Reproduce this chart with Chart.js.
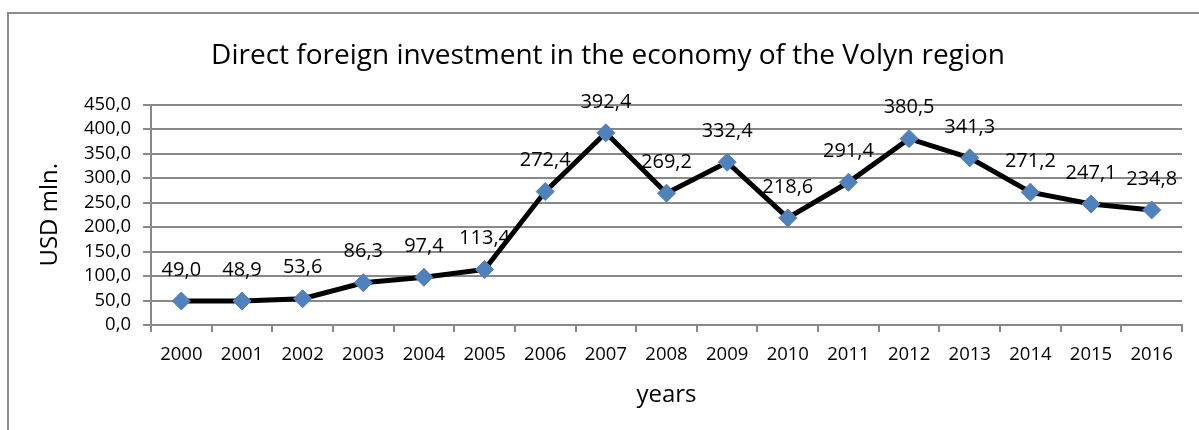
<!DOCTYPE html>
<html>
<head>
<meta charset="utf-8">
<script src="https://cdn.jsdelivr.net/npm/chart.js@4.4.1/dist/chart.umd.min.js"></script>
<style>
  html, body { margin: 0; padding: 0; background: #fff; }
  #wrap { position: relative; width: 1199px; height: 430px; overflow: hidden; }
  #frame {
    position: absolute; left: 7px; top: 12px; right: -10px; bottom: -10px;
    border-left: 2px solid #8c8c8c; border-top: 2px solid #8c8c8c;
  }
  #chart { position: absolute; left: 0; top: 0; }
</style>
</head>
<body>
<div id="wrap">
  <div id="frame"></div>
  <canvas id="chart" width="1199" height="430"></canvas>
</div>
<script>
const years = ["2000", "2001", "2002", "2003", "2004", "2005", "2006", "2007", "2008",
  "2009", "2010", "2011", "2012", "2013", "2014", "2015", "2016"];
const investment = [49.0, 48.9, 53.6, 86.3, 97.4, 113.4, 272.4, 392.4, 269.2,
  332.4, 218.6, 291.4, 380.5, 341.3, 271.2, 247.1, 234.8];
const yTicks = [0, 50, 100, 150, 200, 250, 300, 350, 400, 450];

const FONT = "'Open Sans', 'Noto Sans', sans-serif";
const GRID = "#898989";
const fmt = (v) => Number(v).toFixed(1).replace(".", ",");

// подписи значений над точками
const valueLabels = {
  id: "valueLabels",
  afterDatasetsDraw(chart) {
    const ctx = chart.ctx;
    const meta = chart.getDatasetMeta(0);
    ctx.save();
    ctx.font = "20px " + FONT;
    ctx.fillStyle = "#000";
    ctx.textAlign = "center";
    ctx.textBaseline = "middle";
    meta.data.forEach((pt, i) => {
      ctx.fillText(fmt(investment[i]), pt.x, pt.y - 31);
    });
    ctx.restore();
  },
};

new Chart(document.getElementById("chart").getContext("2d"), {
  type: "line",
  data: {
    labels: years,
    datasets: [{
      data: investment,
      borderColor: "#000",
      borderWidth: 5,
      tension: 0,
      pointStyle: "rectRot",
      pointRadius: 9,
      pointHoverRadius: 9,
      pointBackgroundColor: "#4f81bd",
      pointBorderColor: "#4f81bd",
      pointBorderWidth: 1,
    }],
  },
  options: {
    responsive: false,
    animation: false,
    layout: { padding: { left: 34, right: 17, top: 14, bottom: 0 } },
    plugins: {
      legend: { display: false },
      tooltip: { enabled: false },
      title: {
        display: true,
        text: "Direct foreign investment in the economy of the Volyn region",
        color: "#000",
        font: { family: FONT, size: 28, weight: "normal" },
        padding: { top: 25, bottom: 32 },
      },
    },
    scales: {
      x: {
        offset: true,
        afterFit(scale) { scale.height = 105; },
        grid: {
          offset: true,
          drawOnChartArea: false,
          drawTicks: true,
          tickLength: 7,
          color: GRID,
          lineWidth: 2,
        },
        border: { display: true, color: GRID, width: 2 },
        ticks: { color: "#000", font: { family: FONT, size: 18.5 }, padding: 12, maxRotation: 0, autoSkip: false },
        title: {
          display: true,
          text: "years",
          color: "#000",
          font: { family: FONT, size: 24 },
          padding: { top: 0, bottom: 20 },
        },
      },
      y: {
        min: 0,
        max: 450,
        afterFit(scale) { scale.width = 117; },
        afterBuildTicks(scale) { scale.ticks = yTicks.map((v) => ({ value: v })); },
        grid: { color: GRID, lineWidth: 2, tickLength: 8 },
        border: { display: true, color: GRID, width: 2 },
        ticks: {
          color: "#000",
          font: { family: FONT, size: 18.5 },
          padding: 12,
          autoSkip: false,
          callback: (v) => fmt(v),
        },
        title: {
          display: true,
          text: "USD mln.",
          color: "#000",
          font: { family: FONT, size: 24 },
          padding: { top: 2, bottom: 0 },
        },
      },
    },
  },
  plugins: [valueLabels],
});
</script>
</body>
</html>
